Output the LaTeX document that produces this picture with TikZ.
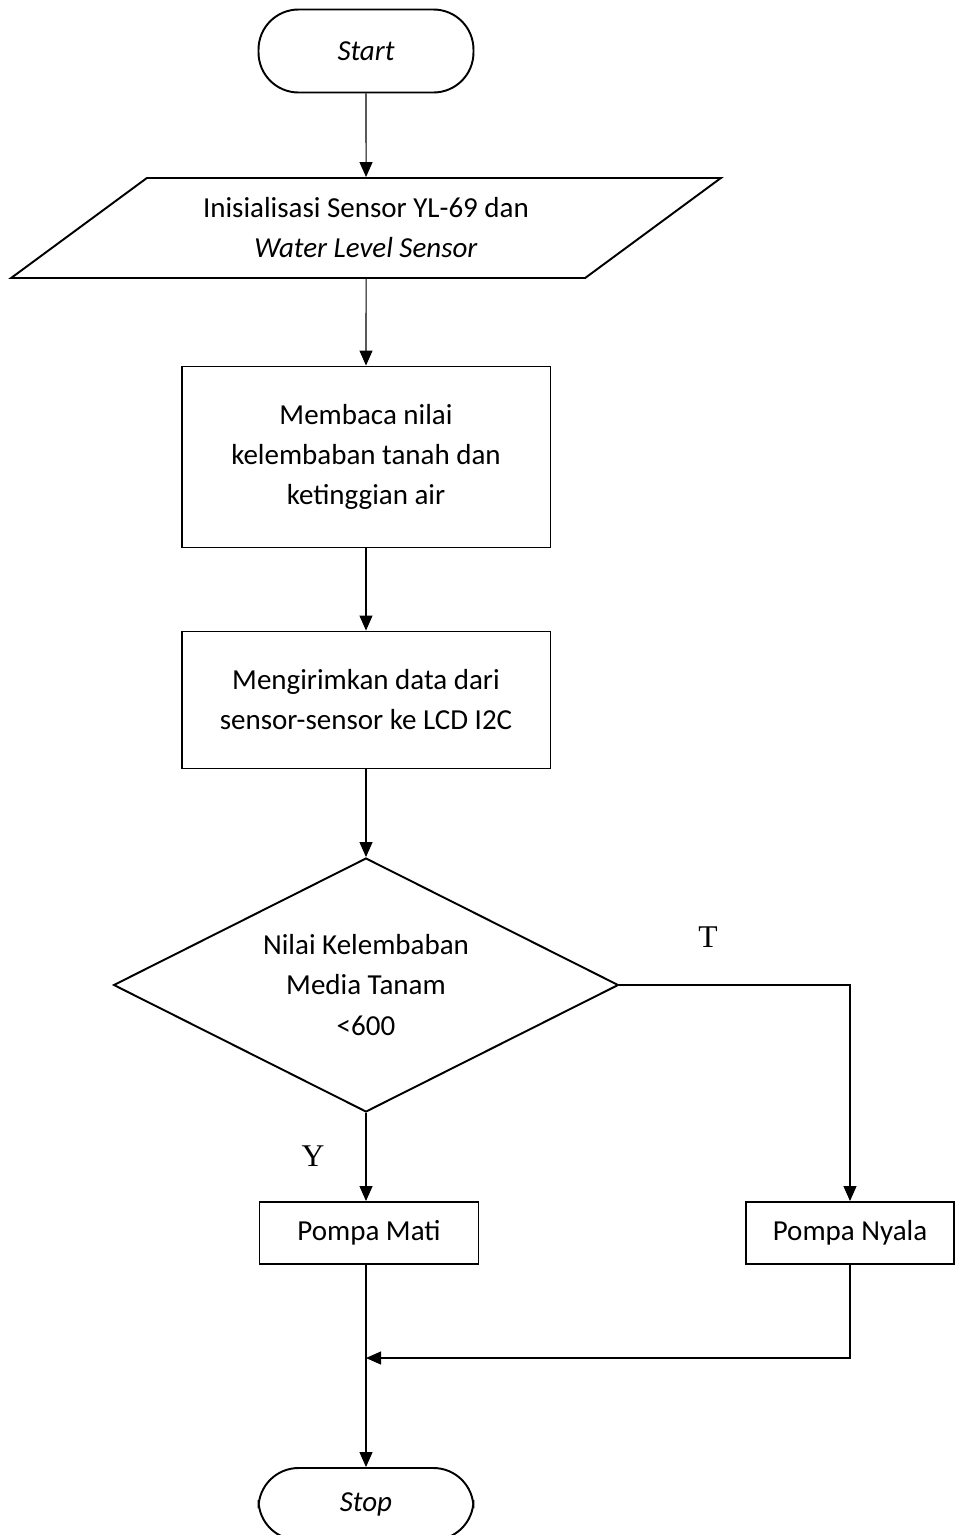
\documentclass[tikz,border=0pt]{standalone}
\usepackage{fontspec}
\setmainfont{Carlito}
\newfontfamily\serifyn{Liberation Serif}
\usepackage{tikz}
\usetikzlibrary{shapes.geometric,arrows.meta}
\newcommand{\bodyfont}{\fontsize{16.5}{22.8}\selectfont}
\tikzset{
  term/.style={draw,line width=1.1pt,rounded corners=0.8cm,minimum width=4.3cm,minimum height=1.66cm,font=\bodyfont\itshape},
  io/.style={draw,line width=1.1pt,trapezium,trapezium left angle=34.6,trapezium right angle=145.4,trapezium stretches=true,minimum width=14.24cm,minimum height=2cm,align=center},
  proc/.style={draw,line width=1.1pt,minimum width=7.38cm,align=center},
  pump/.style={draw,line width=1.1pt,minimum height=1.24cm,align=center},
  dec/.style={draw,line width=1.1pt,diamond,aspect=2,inner sep=0pt,minimum width=10.1cm,minimum height=5.08cm,align=center},
  flow/.style={line width=0.6pt,-{Triangle[length=0.3cm,width=0.26cm]}},
  yn/.style={font=\serifyn\fontsize{18}{20}\selectfont}
}

\begin{document}
\begin{tikzpicture}[x=0.02cm,y=-0.02cm,font=\bodyfont]
\useasboundingbox (0,0) rectangle (955,1535);
\node[term] (start) at (366,51) {Start};
\node[io] (init) at (366,228) {Inisialisasi Sensor YL-69 dan\\\textit{Water Level Sensor}};
\node[proc,minimum height=3.62cm] (read) at (366,457) {Membaca nilai\\kelembaban tanah dan\\ketinggian air};
\node[proc,minimum height=2.74cm] (send) at (366,700) {Mengirimkan data dari\\sensor-sensor ke LCD I2C};
\node[dec] (cek) at (366,985) {Nilai Kelembaban\\Media Tanam\\<600};
\node[pump,minimum width=4.38cm] (mati) at (369,1233) {Pompa Mati};
\node[pump,minimum width=4.16cm] (nyala) at (850,1233) {Pompa Nyala};
\node[term,minimum height=1.44cm] (stop) at (366,1504) {Stop};
\node[yn] (tlbl) at (708,937) {T};
\node[yn] (ylbl) at (313,1156) {Y};
\coordinate (join) at (366,1358);

\draw[flow] (start) -- (init);
\draw[flow] (init) -- (read);
\draw[flow] (read) -- (send);
\draw[flow] (send) -- (cek);
\draw[flow] (cek.south) -- (cek.south |- mati.north);
\draw[flow] (cek.east) -| (nyala.north);
\draw[line width=0.6pt] (join |- mati.south) -- (join);
\draw[flow] (join) -- (stop.north);
\draw[flow] (nyala.south) |- (join);
\end{tikzpicture}
\end{document}
